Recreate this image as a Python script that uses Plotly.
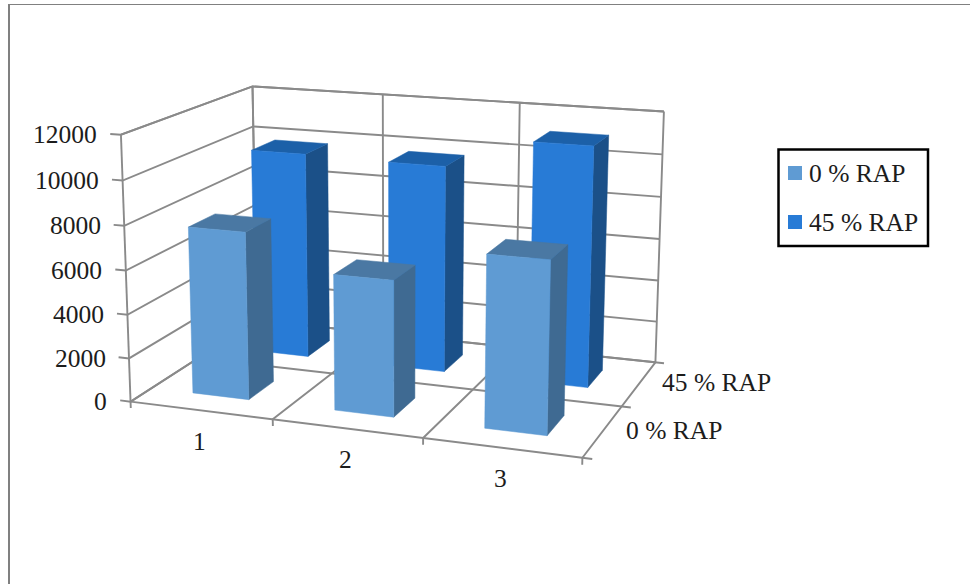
import numpy as np
import plotly.graph_objects as go

# Chart data
CATEGORIES = [1, 2, 3]
SERIES_NAMES = ["0 % RAP", "45 % RAP"]
RAP_0 = [7650, 6120, 7630]
RAP_45 = [9820, 9730, 11130]
Z_TICKS = [0, 2000, 4000, 6000, 8000, 10000, 12000]
Z_MAX = 12000

# Face colours per series: front, side, top
COLORS = [
    {"front": "#5f9bd3", "side": "#3f6a92", "top": "#4a78a3"},
    {"front": "#287bd6", "side": "#1b5088", "top": "#1c60a8"},
]
GRID = "#8a8a8a"
INK = "#1c1c1c"
FONT = "Liberation Serif"
FONT_SIZE = 25.5

# Bar footprint as a share of its slot (gap width 150 %)
BAR_SHARE_X = 0.40
BAR_SHARE_Y = 0.40

# Reference points of the plot box (u, v, w in 0..1) and where they sit on the canvas
ANCHORS = [
    (0, 0, 0, 130, 402.3), (1, 0, 0, 581.7, 458.3), (1, 1, 0, 655.5, 361),
    (0, 0, 1, 120, 134), (0, 1, 1, 251.7, 86.7), (1, 1, 1, 664, 111.7),
    (1 / 3, 1, 1, 382.7, 94.6), (2 / 3, 1, 1, 520, 103.5),
    (1 / 3, 0, 0, 272.7, 420), (2 / 3, 0, 0, 422.7, 438.3), (1, 0.5, 0, 621.7, 406),
    (0, 0, 1 / 6, 129.3, 358.3), (0, 0, 2 / 6, 128, 314), (0, 0, 3 / 6, 126, 270.7),
    (0, 0, 4 / 6, 125, 225.7), (0, 0, 5 / 6, 123.3, 180),
    (1, 1, 5 / 6, 662.5, 154), (1, 1, 4 / 6, 661, 196.7), (1, 1, 3 / 6, 659.5, 239),
    (1, 1, 2 / 6, 658.5, 281), (1, 1, 1 / 6, 657, 321.7),
]


def solve_camera(anchors):
    """Least-squares projective camera for the anchor correspondences."""
    rows, rhs = [], []
    for u, v, w, px, py in anchors:
        rows.append([u, v, w, 1, 0, 0, 0, 0, -px * u, -px * v, -px * w])
        rows.append([0, 0, 0, 0, u, v, w, 1, -py * u, -py * v, -py * w])
        rhs += [px, py]
    m = np.linalg.lstsq(np.array(rows, float), np.array(rhs, float), rcond=None)[0]
    return np.append(m, 1.0).reshape(3, 4)


CAMERA = solve_camera(ANCHORS)


def project(u, v, w):
    h = CAMERA @ np.array([u, v, w, 1.0])
    return h[0] / h[2], h[1] / h[2]


def polyline(points):
    xy = [project(*p) for p in points]
    return [q[0] for q in xy], [q[1] for q in xy]


fig = go.Figure()


def add_line(points, width=1.9):
    x, y = polyline(points)
    fig.add_trace(go.Scatter(x=x, y=y, mode="lines", showlegend=False, hoverinfo="skip",
                             line=dict(color=GRID, width=width)))


def add_face(points, color, name):
    x, y = polyline(points + [points[0]])
    fig.add_trace(go.Scatter(x=x, y=y, mode="lines", fill="toself", fillcolor=color,
                             line=dict(color=color, width=0.5), showlegend=False,
                             name=name, hoverinfo="name"))


# Walls and floor
n = len(CATEGORIES)
m = len(SERIES_NAMES)
for t in Z_TICKS:
    w = t / Z_MAX
    add_line([(-0.025, 0, w), (0, 0, w), (0, 1, w), (1, 1, w)])
for i in range(n + 1):
    u = i / n
    add_line([(u, 0, -0.025), (u, 0, 0), (u, 1, 0), (u, 1, 1)])
for j in range(m + 1):
    add_line([(0, j / m, 0), (1, j / m, 0), (1.02, j / m, 0)])
add_line([(0, 0, 0), (0, 0, 1)])
add_line([(0, 1, 0), (0, 1, 1)])
add_line([(0, 0, 1), (0, 1, 1), (1, 1, 1)])

# Bars, back row first so the front row covers it
for j in reversed(range(m)):
    values = [RAP_0, RAP_45][j]
    pal = COLORS[j]
    for i in range(n):
        cx = (i + 0.5) / n
        cy = (j + 0.5) / m
        hx = BAR_SHARE_X / n / 2
        hy = BAR_SHARE_Y / m / 2
        x0, x1 = cx - hx, cx + hx
        y0, y1 = cy - hy, cy + hy
        w = values[i] / Z_MAX
        label = f"{SERIES_NAMES[j]}, {CATEGORIES[i]}: {values[i]}"
        add_face([(x1, y0, 0), (x1, y1, 0), (x1, y1, w), (x1, y0, w)], pal["side"], label)
        add_face([(x0, y0, w), (x1, y0, w), (x1, y1, w), (x0, y1, w)], pal["top"], label)
        add_face([(x0, y0, 0), (x1, y0, 0), (x1, y0, w), (x0, y0, w)], pal["front"], label)

annotations = []


def add_text(x, y, text, anchor="center"):
    annotations.append(dict(x=x, y=y, xref="x", yref="y", text=text, showarrow=False,
                            xanchor=anchor, yanchor="middle",
                            font=dict(family=FONT, size=FONT_SIZE, color=INK)))


# Axis labels
for t in Z_TICKS:
    px, py = project(-0.025, 0, t / Z_MAX)
    add_text(px - 11, py + 1, str(t), "right")
for i, c in enumerate(CATEGORIES):
    px, py = project((i + 0.5) / n, 0, 0)
    add_text(px - 1, py + 31, str(c))
for j, s in enumerate(SERIES_NAMES):
    px, py = project(1, (j + 0.5) / m, 0)
    add_text(px + 21, py - 1, s, "left")

# Legend box with its swatches
LEGEND_BOX = (778.5, 149.5, 928, 246)
shapes = [
    dict(type="rect", x0=LEGEND_BOX[0], y0=LEGEND_BOX[1], x1=LEGEND_BOX[2], y1=LEGEND_BOX[3],
         xref="x", yref="y", line=dict(color="#000000", width=2.5), fillcolor="#ffffff"),
    # Outer page frame
    dict(type="line", x0=9, y0=4, x1=9, y1=584, xref="x", yref="y",
         line=dict(color="#808080", width=2)),
    dict(type="line", x0=8, y0=4.5, x1=970, y1=4.5, xref="x", yref="y",
         line=dict(color="#808080", width=1)),
]
for j, (name, y_mid) in enumerate(zip(SERIES_NAMES, [173, 222])):
    shapes.append(dict(type="rect", x0=788, x1=802, y0=y_mid - 7, y1=y_mid + 7, xref="x", yref="y",
                       line=dict(width=0), fillcolor=COLORS[j]["front"]))
    add_text(807, y_mid, name, "left")

fig.update_layout(
    width=970, height=584, margin=dict(l=0, r=0, t=0, b=0),
    paper_bgcolor="#ffffff", plot_bgcolor="#ffffff", showlegend=False,
    xaxis=dict(range=[0, 970], visible=False, fixedrange=True),
    yaxis=dict(range=[584, 0], visible=False, fixedrange=True),
    annotations=annotations, shapes=shapes,
)
fig.write_html("out.html", config={"displayModeBar": False})
